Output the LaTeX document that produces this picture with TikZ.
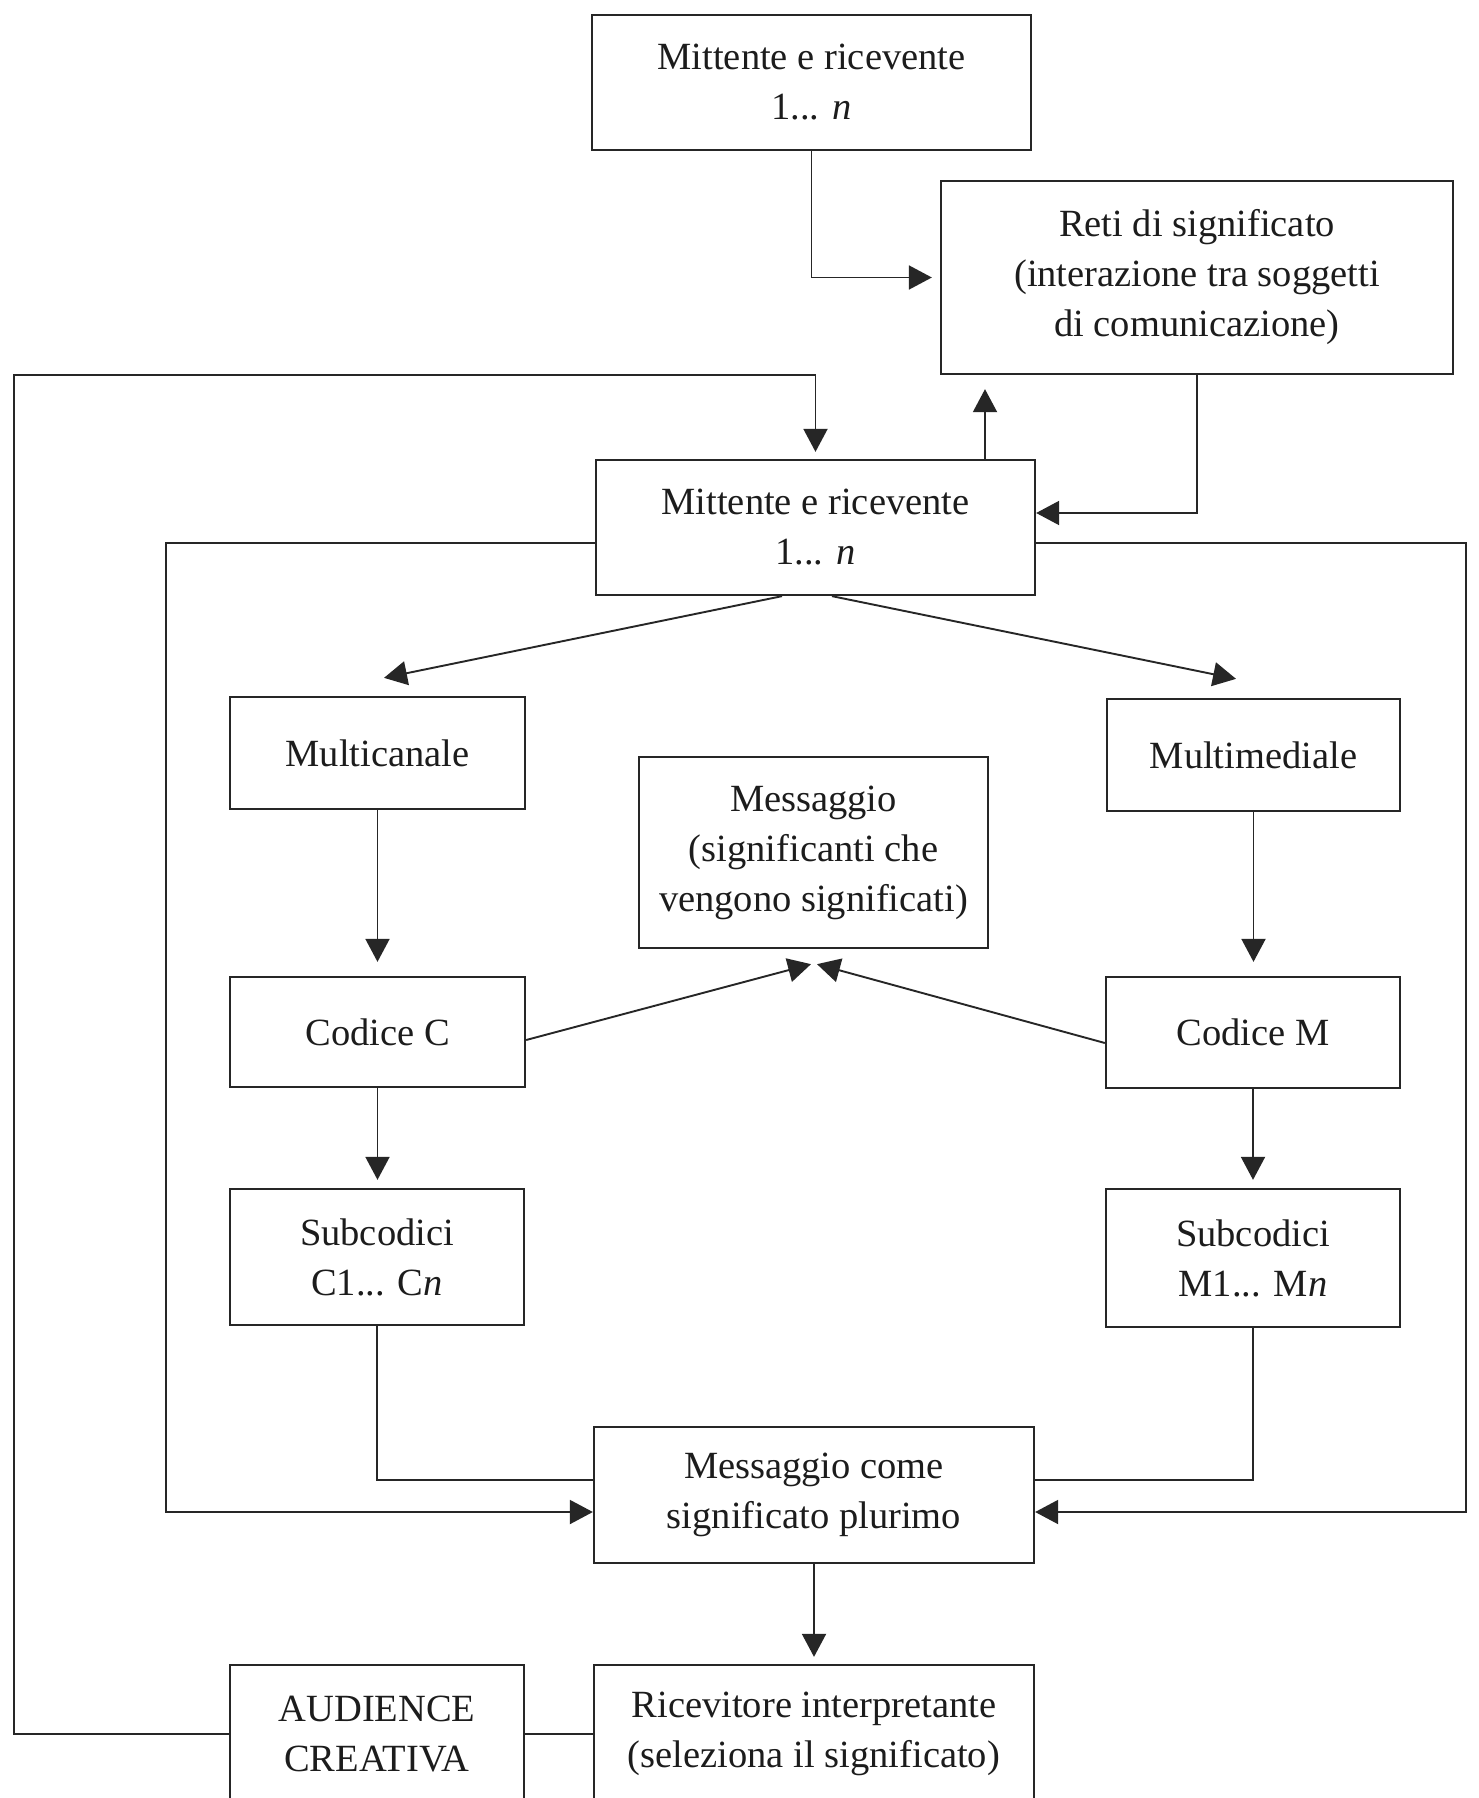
\documentclass[tikz,border=0pt]{standalone}
\usepackage{fontspec}
\setmainfont{Liberation Serif}
\usetikzlibrary{arrows.meta,calc}
\definecolor{ink}{HTML}{262626}
\definecolor{txt}{HTML}{1C1C1C}
\tikzset{
  box/.style={draw=ink, line width=2.3pt, inner sep=0pt, align=center,
    text=txt, font=\fontsize{38.5}{50}\selectfont, anchor=center},
  boxsize/.style 2 args={minimum width=#1pt, minimum height=#2pt},
  link/.style={draw=ink, line width=1.9pt},
  arr/.style={link, -{Triangle[length=23pt,width=24pt]}},
}
\begin{document}
\begin{tikzpicture}[x=1pt,y=-1pt]
  \fill[white] (0,0) rectangle (1479,1798);
  \clip (0,0) rectangle (1479,1798);

  % boxes
  \node[box, boxsize={439}{135}] (top)  at (811.5,82.5)  {Mittente e ricevente\\1... \textit{n}};
  \node[box, boxsize={512}{193}] (reti) at (1197,277.5)  {Reti di significato\\(interazione tra soggetti\\di comunicazione)};
  \node[box, boxsize={439}{135}] (mr)   at (815.5,527.5) {Mittente e ricevente\\1... \textit{n}};
  \node[box, boxsize={295}{112}] (mcan) at (377.5,753)   {Multicanale};
  \node[box, boxsize={293}{112}] (mmed) at (1253.5,755)  {Multimediale};
  \node[box, boxsize={349}{191}] (msg)  at (813.5,852.5) {Messaggio\\(significanti che\\vengono significati)};
  \node[box, boxsize={295}{110}] (codc) at (377.5,1032)  {Codice C};
  \node[box, boxsize={294}{111}] (codm) at (1253,1032.5) {Codice M};
  \node[box, boxsize={294}{136}] (subc) at (377,1257)    {Subcodici\\C1... C\textit{n}};
  \node[box, boxsize={294}{138}] (subm) at (1253,1258)   {Subcodici\\M1... M\textit{n}};
  \node[box, boxsize={440}{136}] (mcom) at (814,1495)    {Messaggio come\\significato plurimo};
  \node[box, boxsize={294}{138}] (aud)  at (377,1734)    {AUDIENCE\\CREATIVA};
  \node[box, boxsize={440}{138}] (ric)  at (814,1734)    {Ricevitore interpretante\\(seleziona il significato)};

  % corner points of the two feedback loops
  \coordinate (outerL) at (14,375);
  \coordinate (innerL) at (166,543);
  \coordinate (innerR) at (1466,543);

  % top part
  \draw[arr, shorten >=8pt] (top.south) |- (reti.west);
  \draw[arr] (reti.south) |- ([yshift=14.5pt]mr.east);
  \draw[arr, shorten >=14pt] ([xshift=169.5pt]mr.north) -- ([xshift=169.5pt]mr.north |- reti.south);
  \draw[arr, shorten >=7pt] (aud.west) -| (outerL) -| (mr.north);

  % fan-out to the two branches
  \draw[arr] ([xshift=-33.5pt]mr.south) -- ([xshift=6.5pt,yshift=18pt]mcan.north);
  \draw[arr] ([xshift=16.5pt]mr.south) -- ([xshift=-17.5pt,yshift=19pt]mmed.north);

  % branch columns
  \draw[arr, shorten >=14pt] (mcan.south) -- (codc.north);
  \draw[arr, shorten >=14pt] (mmed.south) -- (mmed.south |- codm.north);
  \draw[arr, shorten >=8pt] (codc.south) -- (codc.south |- subc.north);
  \draw[arr, shorten >=8pt] (codm.south) -- (codm.south |- subm.north);

  % codes towards the message
  \draw[arr] ([yshift=-8pt]codc.east) -- ([xshift=-2.5pt,yshift=-15pt]msg.south);
  \draw[arr] ([yshift=-10.5pt]codm.west) -- ([xshift=3.5pt,yshift=-15pt]msg.south);

  % sub-codes into the plural message
  \draw[link] (subc.south) |- ([yshift=15pt]mcom.west);
  \draw[link] (subm.south) |- ([yshift=15pt]mcom.east);

  % inner loops from the senders/receivers
  \draw[arr] ([yshift=-15.5pt]mr.west) -- (innerL) |- ([yshift=-17pt]mcom.west);
  \draw[arr] ([yshift=-15.5pt]mr.east) -- (innerR) |- ([yshift=-17pt]mcom.east);

  % bottom
  \draw[arr, shorten >=7pt] (mcom.south) -- (ric.north);
  \draw[link] (aud.east) -- (ric.west);
\end{tikzpicture}
\end{document}
